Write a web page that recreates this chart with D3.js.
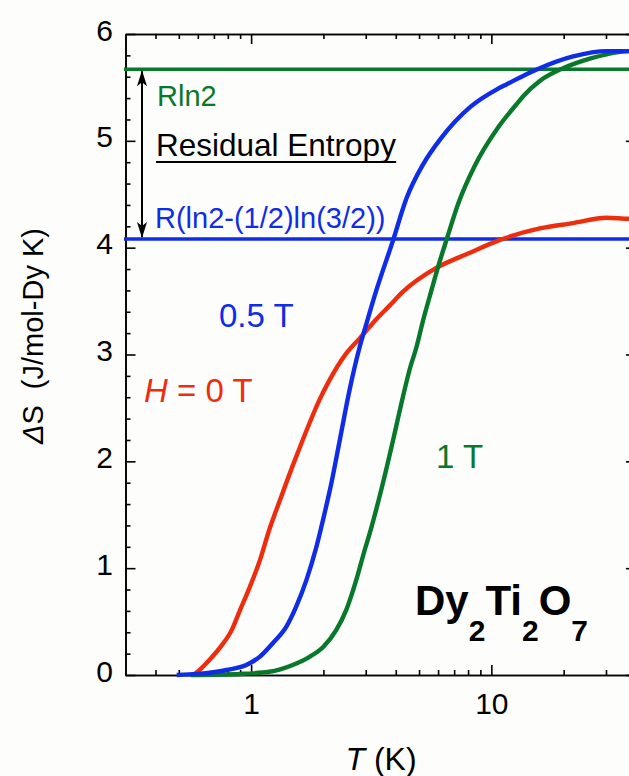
<!DOCTYPE html>
<html>
<head>
<meta charset="utf-8">
<title>Dy2Ti2O7 entropy</title>
<script src="https://d3js.org/d3.v7.min.js"></script>
<style>
	body { margin: 0; background: #fdfdfb; }
	svg { display: block; font-family: "Liberation Sans", Arial, sans-serif; }
	.axis path, .axis line { stroke: #000; stroke-width: 1.6px; }
	.axis text { font-size: 30px; fill: #000; font-family: "Liberation Sans", Arial, sans-serif; }
</style>
</head>
<body>
<div id="chart"></div>
<script>

// data (T in K, dS in J/mol-Dy K)
var T_H0 = [0.57, 0.59, 0.67, 0.75, 0.83, 0.90, 0.99, 1.09, 1.19, 1.32, 1.49, 1.64, 1.93, 2.12, 2.49, 2.83, 3.32, 3.78, 4.3, 5.9, 8.1, 10.8, 15.9, 21.9, 30.2, 37.4, 40];
var S_H0 = [0, 0.02, 0.14, 0.27, 0.42, 0.61, 0.83, 1.08, 1.36, 1.64, 1.96, 2.20, 2.58, 2.76, 3.01, 3.15, 3.33, 3.46, 3.59, 3.81, 3.95, 4.07, 4.18, 4.23, 4.28, 4.27, 4.27];

var T_05 = [0.49, 0.60, 0.79, 0.955, 1.085, 1.233, 1.40, 1.54, 1.70, 1.87, 2.02, 2.16, 2.34, 2.57, 2.83, 3.02, 3.32, 3.90, 4.43, 5.20, 6.20, 8.2, 10.5, 11.6, 14.5, 15.9, 21.9, 30.2, 37.4, 40];
var S_05 = [0, 0.01, 0.047, 0.094, 0.17, 0.30, 0.45, 0.64, 0.89, 1.20, 1.51, 1.80, 2.20, 2.67, 3.07, 3.29, 3.60, 4.07, 4.46, 4.78, 5.03, 5.32, 5.48, 5.53, 5.64, 5.68, 5.79, 5.84, 5.84, 5.84];

var T_1 = [0.56, 0.9, 1.19, 1.49, 1.75, 2.0, 2.26, 2.49, 2.74, 2.97, 3.12, 3.54, 3.90, 4.29, 4.57, 4.88, 5.20, 5.63, 6.0, 6.5, 7.3, 8.5, 10.7, 12.7, 13.6, 15.9, 19.9, 25.7, 30.2, 37.4, 40];
var S_1 = [0, 0.01, 0.03, 0.094, 0.17, 0.265, 0.42, 0.61, 0.89, 1.17, 1.33, 1.80, 2.20, 2.61, 2.86, 3.07, 3.32, 3.60, 3.82, 4.07, 4.42, 4.76, 5.13, 5.34, 5.42, 5.56, 5.68, 5.77, 5.81, 5.84, 5.84];

// Rln2 and R(ln2-(1/2)ln(3/2)) levels as drawn
var levelRln2 = 5.67;
var levelPauling = 4.08;

var yMajor = [0, 1, 2, 3, 4, 5, 6];
var yMinor = d3.range(0, 30).map(function(i) { return i * 0.2; }).filter(function(v, i) { return i % 5 != 0; });
var xMajor = [1, 10];
var xMinor = [0.4, 0.5, 0.6, 0.7, 0.8, 0.9, 2, 3, 4, 5, 6, 7, 8, 9, 20, 30];

var red = "#ee2c0e", blue = "#0f2ce6", green = "#08782a";

// layout
var margin = {top: 34, left: 125.5},
	width = 510.5,
	height = 641;

var svg = d3.select("#chart")
	.append("svg")
		.attr("width", 629)
		.attr("height", 776);

var g = svg.append("g")
	.attr("transform", "translate(" + margin.left + "," + margin.top + ")");

var x = d3.scaleLog().domain([0.3, 40]).range([0, width]);
var y = d3.scaleLinear().domain([0, 6]).range([height, 0]);

// axes: ticks point inward on all four sides
g.append("g").attr("class", "axis")
	.attr("transform", "translate(0," + height + ")")
	.call(d3.axisBottom(x).tickValues(xMajor).tickFormat(d3.format("d")).tickSizeInner(-10).tickSizeOuter(0).tickPadding(18));
g.append("g").attr("class", "axis")
	.attr("transform", "translate(0," + height + ")")
	.call(d3.axisBottom(x).tickValues(xMinor).tickFormat("").tickSizeInner(-5).tickSizeOuter(0));
g.append("g").attr("class", "axis")
	.call(d3.axisTop(x).tickValues(xMajor).tickFormat("").tickSizeInner(-10).tickSizeOuter(0));
g.append("g").attr("class", "axis")
	.call(d3.axisTop(x).tickValues(xMinor).tickFormat("").tickSizeInner(-5).tickSizeOuter(0));

g.append("g").attr("class", "axis")
	.call(d3.axisLeft(y).tickValues(yMajor).tickFormat(d3.format("d")).tickSizeInner(-10).tickSizeOuter(0).tickPadding(12.5))
	.selectAll("text").attr("dy", "0.2em");
g.append("g").attr("class", "axis")
	.call(d3.axisLeft(y).tickValues(yMinor).tickFormat("").tickSizeInner(-5).tickSizeOuter(0));
g.append("g").attr("class", "axis")
	.attr("transform", "translate(" + width + ",0)")
	.call(d3.axisRight(y).tickValues(yMajor).tickFormat("").tickSizeInner(-10).tickSizeOuter(0));
g.append("g").attr("class", "axis")
	.attr("transform", "translate(" + width + ",0)")
	.call(d3.axisRight(y).tickValues(yMinor).tickFormat("").tickSizeInner(-5).tickSizeOuter(0));

// reference levels
g.selectAll(".level")
	.data([{v: levelRln2, c: green}, {v: levelPauling, c: blue}])
	.enter().append("line")
		.attr("class", "level")
		.attr("x1", -1.5)
		.attr("x2", width)
		.attr("y1", function(d) { return y(d.v); })
		.attr("y2", function(d) { return y(d.v); })
		.attr("stroke", function(d) { return d.c; })
		.attr("stroke-width", 3.5);

// curves
var line = d3.line()
	.curve(d3.curveMonotoneX)
	.x(function(d) { return x(d[0]); })
	.y(function(d) { return y(d[1]); });

var series = [
	{T: T_H0, S: S_H0, c: red},
	{T: T_1, S: S_1, c: green},
	{T: T_05, S: S_05, c: blue}
];

series.forEach(function(s) {
	g.append("path")
		.datum(d3.zip(s.T, s.S))
		.attr("fill", "none")
		.attr("stroke", s.c)
		.attr("stroke-width", 4.4)
		.attr("stroke-linejoin", "round")
		.attr("d", line);
});

// double arrow between the two levels
var defs = svg.append("defs");
defs.append("marker")
	.attr("id", "head")
	.attr("markerUnits", "userSpaceOnUse")
	.attr("viewBox", "0 0 16 10")
	.attr("refX", 15).attr("refY", 5)
	.attr("markerWidth", 16).attr("markerHeight", 10)
	.attr("orient", "auto-start-reverse")
	.append("path")
		.attr("d", "M0,0 L16,5 L0,10 L4,5 Z")
		.attr("fill", "#000");

g.append("line")
	.attr("x1", 16.5).attr("x2", 16.5)
	.attr("y1", y(levelRln2) + 2)
	.attr("y2", y(levelPauling) - 2)
	.attr("stroke", "#000")
	.attr("stroke-width", 2)
	.attr("marker-start", "url(#head)")
	.attr("marker-end", "url(#head)");

// annotations
function label(txt, px, py, size, color) {
	return svg.append("text")
		.attr("x", px).attr("y", py)
		.attr("font-size", size)
		.attr("fill", color)
		.text(txt);
}

label("Rln2", 157, 106, 29, green);
var res = label("Residual Entropy", 156, 156, 31.5, "#000");
var bb = res.node().getBBox();
svg.append("line")
	.attr("x1", bb.x).attr("x2", bb.x + bb.width)
	.attr("y1", 162).attr("y2", 162)
	.attr("stroke", "#000").attr("stroke-width", 2);
label("R(ln2-(1/2)ln(3/2))", 155, 228, 29, blue);
label("0.5 T", 219, 327, 33, blue);

var h0 = svg.append("text")
	.attr("x", 144).attr("y", 402)
	.attr("font-size", 33)
	.attr("fill", red);
h0.append("tspan").attr("font-style", "italic").text("H");
h0.append("tspan").text(" = 0 T");

label("1 T", 436, 468, 33, green);

var dy = svg.append("text")
	.attr("x", 415).attr("y", 615)
	.attr("font-size", 42)
	.attr("font-weight", "bold")
	.attr("fill", "#000");
dy.append("tspan").text("Dy");
dy.append("tspan").attr("font-size", 30).attr("dy", 26).text("2");
dy.append("tspan").attr("dy", -26).text("Ti");
dy.append("tspan").attr("font-size", 30).attr("dy", 26).text("2");
dy.append("tspan").attr("dy", -26).text("O");
dy.append("tspan").attr("font-size", 30).attr("dy", 26).text("7");

// axis titles
var xt = svg.append("text")
	.attr("x", 381).attr("y", 770)
	.attr("text-anchor", "middle")
	.attr("font-size", 32);
xt.append("tspan").attr("font-style", "italic").text("T");
xt.append("tspan").text(" (K)");

var yt = svg.append("text")
	.attr("transform", "translate(43,336) rotate(-90)")
	.attr("text-anchor", "middle")
	.attr("font-size", 29);
yt.append("tspan").attr("font-style", "italic").text("Δ");
yt.append("tspan").text("S");
yt.append("tspan").attr("dx", 16).text("(J/mol-Dy K)");

</script>
</body>
</html>
